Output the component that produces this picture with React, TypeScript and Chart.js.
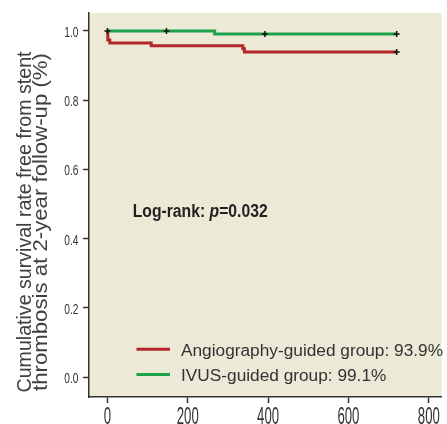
import React, { useEffect, useRef } from "react";
import { Chart, registerables } from "chart.js";
Chart.register(...registerables);

// Kaplan–Meier step data (time in days, survival after event)
const angioTimes = [0, 1, 6, 109, 337, 341, 720];
const angioSurvival = [1.0, 0.974, 0.965, 0.957, 0.949, 0.939, 0.939];
const ivusTimes = [0, 267, 720];
const ivusSurvival = [1.0, 0.991, 0.991];
// censor marks
const ivusCensorTimes = [0, 147, 392, 720];
const angioCensorTimes = [720];

const xTicks = [0, 200, 400, 600, 800];
const yTicks = [0.0, 0.2, 0.4, 0.6, 0.8, 1.0];
const legendLabels = ["Angiography-guided group: 93.9%", "IVUS-guided group: 99.1%"];
const yTitleLines = ["Cumulative survival rate free from stent", "thrombosis at 2-year follow-up (%)"];
const logRankPrefix = "Log-rank: ";
const logRankP = "p";
const logRankValue = "=0.032";

const RED = "#b3262b";
const GREEN = "#1ea14c";
const BEIGE = "#ece9d6";
const AXIS = "#333333";

function survivalAt(times: number[], surv: number[], t: number) {
  let v = surv[0];
  for (let i = 0; i < times.length; i++) if (times[i] <= t) v = surv[i];
  return v;
}

function drawScaled(
  ctx: CanvasRenderingContext2D,
  text: string,
  x: number,
  y: number,
  sx: number,
  align: "left" | "right" | "center"
) {
  const w = ctx.measureText(text).width * sx;
  let left = x;
  if (align === "right") left = x - w;
  if (align === "center") left = x - w / 2;
  ctx.save();
  ctx.translate(left, y);
  ctx.scale(sx, 1);
  ctx.textAlign = "left";
  ctx.fillText(text, 0, 0);
  ctx.restore();
  return w;
}

const bgPlugin = {
  id: "bgPlugin",
  beforeDraw(chart: any) {
    const { ctx, chartArea } = chart;
    ctx.save();
    ctx.fillStyle = "#ffffff";
    ctx.fillRect(0, 0, chart.width, chart.height);
    ctx.fillStyle = BEIGE;
    ctx.fillRect(chartArea.left, chartArea.top, chartArea.right - chartArea.left, chartArea.bottom - chartArea.top);
    ctx.restore();
  },
};

const textPlugin = {
  id: "textPlugin",
  afterDraw(chart: any) {
    const { ctx, chartArea } = chart;
    const xs = chart.scales.x;
    const ys = chart.scales.y;
    ctx.save();
    ctx.textBaseline = "alphabetic";

    // y tick labels
    ctx.fillStyle = AXIS;
    ctx.font = "15px 'Liberation Sans', Arial, sans-serif";
    for (const v of yTicks) {
      const py = ys.getPixelForValue(v);
      drawScaled(ctx, v.toFixed(1), chartArea.left - 10.5, py + 6, 0.68, "right");
    }
    // x tick labels
    ctx.font = "24px 'Liberation Sans', Arial, sans-serif";
    for (const v of xTicks) {
      const px = xs.getPixelForValue(v);
      drawScaled(ctx, String(v), px, 424, 0.55, "center");
    }

    // y axis title (rotated)
    ctx.fillStyle = "#404040";
    ctx.font = "20px 'Liberation Sans', Arial, sans-serif";
    const targets = [341, 338];
    const baselines = [30.5, 46.5];
    ctx.save();
    ctx.translate(0, 222);
    ctx.rotate(-Math.PI / 2);
    yTitleLines.forEach((line, i) => {
      const sx = targets[i] / ctx.measureText(line).width;
      drawScaled(ctx, line, 0, baselines[i], sx, "center");
    });
    ctx.restore();

    // Log-rank annotation
    ctx.fillStyle = "#222222";
    const boldFont = "bold 19px 'Liberation Sans', Arial, sans-serif";
    const italicFont = "italic bold 19px 'Liberation Sans', Arial, sans-serif";
    ctx.font = boldFont;
    const w1 = ctx.measureText(logRankPrefix).width;
    const w3 = ctx.measureText(logRankValue).width;
    ctx.font = italicFont;
    const w2 = ctx.measureText(logRankP).width;
    const lsx = 135 / (w1 + w2 + w3);
    let lx = 132.7;
    const ly = 216.7;
    ctx.font = boldFont;
    lx += drawScaled(ctx, logRankPrefix, lx, ly, lsx, "left");
    ctx.font = italicFont;
    lx += drawScaled(ctx, logRankP, lx, ly, lsx, "left");
    ctx.font = boldFont;
    drawScaled(ctx, logRankValue, lx, ly, lsx, "left");

    // Legend
    const colors = [RED, GREEN];
    const lineYs = [349.3, 374.6];
    ctx.font = "16px 'Liberation Sans', Arial, sans-serif";
    const legSx = 262 / ctx.measureText(legendLabels[0]).width;
    legendLabels.forEach((lab, i) => {
      ctx.strokeStyle = colors[i];
      ctx.lineWidth = 3;
      ctx.beginPath();
      ctx.moveTo(136.5, lineYs[i]);
      ctx.lineTo(170, lineYs[i]);
      ctx.stroke();
      ctx.fillStyle = "#333333";
      drawScaled(ctx, lab, 181, lineYs[i] + 6.3, legSx, "left");
    });

    ctx.restore();
  },
};

export default function App() {
  const ref = useRef<HTMLCanvasElement | null>(null);

  useEffect(() => {
    if (!ref.current) return;
    const angioData = angioTimes.map((t, i) => ({ x: t, y: angioSurvival[i] }));
    const ivusData = ivusTimes.map((t, i) => ({ x: t, y: ivusSurvival[i] }));
    const ivusCensor = ivusCensorTimes.map((t) => ({ x: t, y: survivalAt(ivusTimes, ivusSurvival, t) }));
    const angioCensor = angioCensorTimes.map((t) => ({ x: t, y: survivalAt(angioTimes, angioSurvival, t) }));

    const chart = new Chart(ref.current, {
      type: "line",
      data: {
        datasets: [
          {
            label: "censor-ivus",
            data: ivusCensor,
            showLine: false,
            pointStyle: "cross",
            pointRadius: 3,
            pointBorderColor: "#111111",
            pointBorderWidth: 1.5,
            pointBackgroundColor: "#111111",
            order: 0,
          },
          {
            label: "censor-angio",
            data: angioCensor,
            showLine: false,
            pointStyle: "cross",
            pointRadius: 3,
            pointBorderColor: "#111111",
            pointBorderWidth: 1.5,
            pointBackgroundColor: "#111111",
            order: 0,
          },
          {
            label: legendLabels[1],
            data: ivusData,
            borderColor: GREEN,
            borderWidth: 3,
            stepped: "before",
            pointRadius: 0,
            fill: false,
            order: 1,
          },
          {
            label: legendLabels[0],
            data: angioData,
            borderColor: RED,
            borderWidth: 3,
            stepped: "before",
            pointRadius: 0,
            fill: false,
            order: 2,
          },
        ],
      } as any,
      options: {
        animation: false,
        responsive: false,
        devicePixelRatio: 1,
        layout: { padding: { left: 83, top: 13, right: 0, bottom: 21 } },
        plugins: { legend: { display: false }, tooltip: { enabled: false }, title: { display: false } },
        scales: {
          x: {
            type: "linear",
            min: -45.8,
            max: 831.6,
            afterBuildTicks: (s: any) => {
              s.ticks = xTicks.map((v) => ({ value: v }));
            },
            ticks: { display: false },
            grid: { display: true, drawOnChartArea: false, drawTicks: true, tickLength: 6, tickColor: AXIS, tickWidth: 1.5 },
            border: { display: true, color: AXIS, width: 1.5 },
          },
          y: {
            type: "linear",
            min: -0.0578,
            max: 1.052,
            afterBuildTicks: (s: any) => {
              s.ticks = yTicks.map((v) => ({ value: v }));
            },
            ticks: { display: false },
            grid: { display: true, drawOnChartArea: false, drawTicks: true, tickLength: 6, tickColor: AXIS, tickWidth: 1.5 },
            border: { display: true, color: AXIS, width: 1.5 },
          },
        },
      } as any,
      plugins: [bgPlugin, textPlugin],
    });
    return () => chart.destroy();
  }, []);

  return (
    <div style={{ position: "fixed", left: 0, top: 0, width: 447, height: 424 }}>
      <canvas ref={ref} width={447} height={424} style={{ width: 447, height: 424, display: "block" }} />
    </div>
  );
}
